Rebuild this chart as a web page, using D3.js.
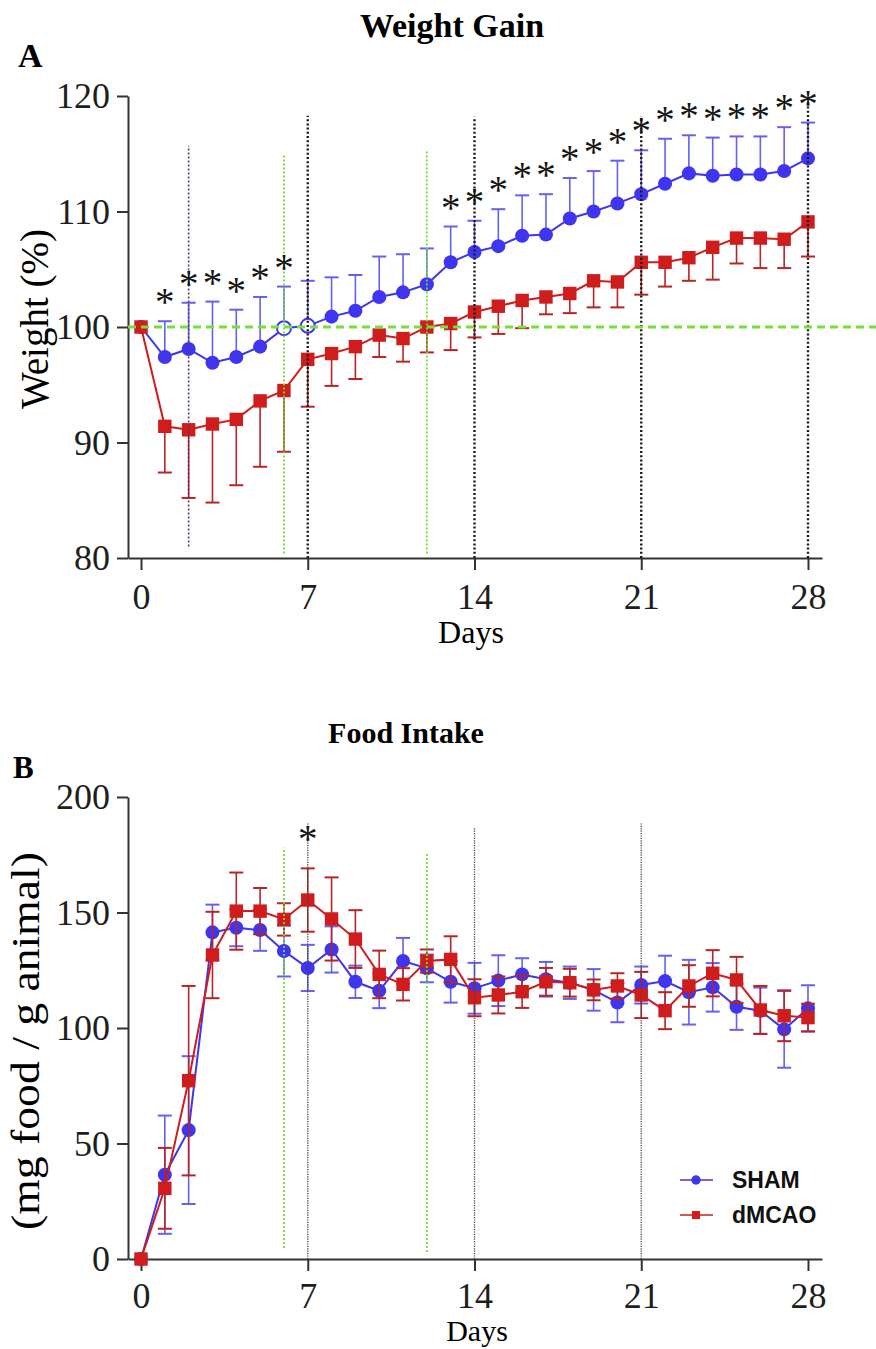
<!DOCTYPE html>
<html>
<head>
<meta charset="utf-8">
<script src="https://cdn.jsdelivr.net/npm/d3@7"></script>
<style>
  body { margin: 0; background: #fff; }
  text { font-family: "Liberation Serif", "Times New Roman", serif; }
</style>
</head>
<body>
<div id="chart"></div>
<script>
// days of the study
var days = [0, 1, 2, 3, 4, 5, 6, 7, 8, 9, 10, 11, 12, 13, 14, 15, 16, 17, 18, 19, 20, 21, 22, 23, 24, 25, 26, 27, 28];
var dayTicks = [0, 7, 14, 21, 28];

// A: weight (%) mean and SEM
var weightSham = [100, 97.4, 98.1, 96.9, 97.4, 98.3, 99.9, 100.1, 100.9, 101.4, 102.6, 103.0, 103.7, 105.6, 106.5, 107.0, 107.9, 108.0, 109.4, 110.0, 110.7, 111.5, 112.4, 113.3, 113.1, 113.2, 113.2, 113.5, 114.6];
var weightShamSem = [0, 3.1, 4.0, 5.3, 4.1, 4.3, 3.6, 3.9, 3.4, 3.1, 3.5, 3.3, 3.1, 3.1, 2.7, 3.2, 3.5, 3.5, 3.5, 3.5, 3.7, 3.8, 3.9, 3.3, 3.3, 3.3, 3.3, 3.8, 3.1];
var weightDmcao = [100, 91.4, 91.1, 91.6, 92.0, 93.6, 94.5, 97.2, 97.7, 98.3, 99.3, 99.0, 100.0, 100.3, 101.3, 101.8, 102.3, 102.6, 102.9, 104.0, 103.9, 105.6, 105.6, 106.0, 106.9, 107.7, 107.7, 107.6, 109.1];
var weightDmcaoSem = [0, 4.0, 5.9, 6.8, 5.7, 5.7, 5.3, 4.1, 2.8, 2.8, 1.9, 2.0, 2.2, 2.3, 2.2, 2.4, 2.4, 1.5, 1.7, 2.3, 2.2, 2.8, 2.1, 2.0, 2.8, 2.2, 2.6, 2.5, 3.0];
var weightSigDays = [1, 2, 3, 4, 5, 6, 13, 14, 15, 16, 17, 18, 19, 20, 21, 22, 23, 24, 25, 26, 27, 28];
var weightOpenDays = [6, 7];
var weightTicks = [80, 90, 100, 110, 120];
var weightBaseline = 100;
var weightRefLines = [
  { day: 2, from: 81, to: 115.7, kind: "purple" },
  { day: 6, from: 80.4, to: 115, kind: "green" },
  { day: 12, from: 80.4, to: 115.2, kind: "green" },
  { day: 7, from: 80, to: 118.3, kind: "black" },
  { day: 14, from: 80, to: 118.2, kind: "black" },
  { day: 21, from: 80, to: 118.2, kind: "black" },
  { day: 28, from: 80, to: 119.8, kind: "black" }
];

// B: food intake (mg food / g animal) mean and SEM
var foodSham = [0, 36.5, 55.8, 141.4, 143.4, 142.4, 133.3, 126, 134, 120, 116.1, 129, 125.8, 120.0, 117.2, 120.5, 123.2, 121.1, 119.6, 116.5, 111, 118.6, 120.3, 115.5, 117.6, 109.2, 107.5, 99.4, 108.5];
var foodShamSem = [0, 25.6, 32, 12, 8, 9, 11, 10, 10, 7, 7.5, 10, 6, 9, 11, 11, 7, 7.5, 7, 9, 8.5, 8, 11, 14, 10.5, 10, 10, 16.6, 10];
var foodDmcao = [0, 30.6, 77.2, 131.6, 150.6, 150.6, 147, 155.4, 147.2, 138.5, 123.2, 118.9, 129, 129.7, 113.1, 114.3, 115.7, 120.0, 119.6, 116.5, 118.2, 114.3, 107.5, 118.2, 123.7, 120.8, 107.8, 105.3, 104.5];
var foodDmcaoSem = [0, 17.5, 41, 18.7, 16.7, 10, 7, 13.7, 18, 12.5, 10.3, 7, 5, 10, 8, 8, 7, 6, 6, 4.5, 5.5, 10, 8, 9, 10, 10, 10.4, 11, 6];
var foodSigDays = [7];
var foodTicks = [0, 50, 100, 150, 200];
var foodRefLines = [
  { day: 6, from: 4.8, to: 178, kind: "green" },
  { day: 12, from: 3, to: 175.8, kind: "green" },
  { day: 7, from: 0, to: 189, kind: "thin" },
  { day: 14, from: 0, to: 187, kind: "thin" },
  { day: 21, from: 0, to: 189, kind: "thin" }
];

var groups = ["SHAM", "dMCAO"];

var BLUE = "#3f35ee", BLUE_ERR = "#6660ee";
var RED = "#cf1c1c", RED_ERR = "#b82424";

var refStyle = {
  purple: { color: "#5a3468", width: 1.6, dash: "2,2" },
  green: { color: "#6fdd2e", width: 1.8, dash: "2,2" },
  black: { color: "#1a1a1a", width: 2.4, dash: "2,2.2" },
  thin: { color: "#444", width: 1.3, dash: "1.2,1.2" }
};

var svg = d3.select("#chart").append("svg")
  .attr("width", 876)
  .attr("height", 1349);

var x = d3.scaleLinear().domain([-0.546, 28.588]).range([128, 822]);
var yA = d3.scaleLinear().domain([80, 120]).range([558, 96]);
var yB = d3.scaleLinear().domain([0, 200]).range([1259, 797]);

function drawAxes(y, ticks, baseY, pad) {
  var gx = svg.append("g")
    .attr("transform", "translate(0," + baseY + ")")
    .call(d3.axisBottom(x).tickValues(dayTicks).tickSize(12).tickSizeOuter(0).tickPadding(pad));
  var gy = svg.append("g")
    .attr("transform", "translate(128,0)")
    .call(d3.axisLeft(y).tickValues(ticks).tickSize(11).tickSizeOuter(0).tickPadding(7));
  [gx, gy].forEach(function(g) {
    g.selectAll("path, line").attr("stroke", "#333").attr("stroke-width", 2);
    g.selectAll("text").attr("fill", "#1e1e1e").style("font-size", "36px")
      .style("font-family", "'Liberation Serif', 'Times New Roman', serif");
  });
}

function drawSeries(y, means, sems, dir, color, errColor, shape, openDays) {
  var g = svg.append("g");
  var pts = days.map(function(d, i) { return { day: d, v: means[i], e: sems[i] }; });

  // error bars
  var bars = g.selectAll(".bar").data(pts.filter(function(p) { return p.e > 0; }))
    .enter().append("g");
  var ends = [];
  if (dir !== "down") ends.push(1);
  if (dir !== "up") ends.push(-1);
  ends.forEach(function(s) {
    bars.append("line")
      .attr("x1", function(p) { return x(p.day); })
      .attr("x2", function(p) { return x(p.day); })
      .attr("y1", function(p) { return y(p.v); })
      .attr("y2", function(p) { return y(p.v + s * p.e); })
      .attr("stroke", errColor).attr("stroke-width", 1.6);
    bars.append("line")
      .attr("x1", function(p) { return x(p.day) - 7; })
      .attr("x2", function(p) { return x(p.day) + 7; })
      .attr("y1", function(p) { return y(p.v + s * p.e); })
      .attr("y2", function(p) { return y(p.v + s * p.e); })
      .attr("stroke", errColor).attr("stroke-width", 2);
  });

  // connecting line
  g.append("path")
    .datum(pts)
    .attr("fill", "none")
    .attr("stroke", color)
    .attr("stroke-width", 2)
    .attr("d", d3.line().x(function(p) { return x(p.day); }).y(function(p) { return y(p.v); }));

  // markers
  var sym = shape === "circle" ? d3.symbol().type(d3.symbolCircle).size(155)
                               : d3.symbol().type(d3.symbolSquare).size(180);
  g.selectAll(".m").data(pts).enter().append("path")
    .attr("transform", function(p) { return "translate(" + x(p.day) + "," + y(p.v) + ")"; })
    .attr("d", sym)
    .attr("fill", function(p) { return (openDays || []).indexOf(p.day) >= 0 ? "#fff" : color; })
    .attr("stroke", function(p) { return (openDays || []).indexOf(p.day) >= 0 ? color : "none"; })
    .attr("stroke-width", 2);
}

function drawRefLines(y, lines) {
  svg.append("g").selectAll("line").data(lines).enter().append("line")
    .attr("x1", function(d) { return x(d.day); })
    .attr("x2", function(d) { return x(d.day); })
    .attr("y1", function(d) { return y(d.from); })
    .attr("y2", function(d) { return y(d.to); })
    .attr("stroke", function(d) { return refStyle[d.kind].color; })
    .attr("stroke-width", function(d) { return refStyle[d.kind].width; })
    .attr("stroke-dasharray", function(d) { return refStyle[d.kind].dash; });
}

function drawStars(y, sigDays, tops, gap) {
  svg.append("g").selectAll("text").data(sigDays).enter().append("text")
    .attr("x", function(d) { return x(d); })
    .attr("y", function(d) { return y(tops[d]) - gap + 18; })
    .attr("text-anchor", "middle")
    .style("font-size", "39px")
    .attr("fill", "#151515")
    .text("*");
}

// ---------- Panel A ----------
svg.append("text").attr("x", 452).attr("y", 37).attr("text-anchor", "middle")
  .style("font-size", "34px").style("font-weight", "bold").text("Weight Gain");
svg.append("text").attr("x", 18).attr("y", 67)
  .style("font-size", "34px").style("font-weight", "bold").text("A");

drawAxes(yA, weightTicks, 558, 13);
drawSeries(yA, weightSham, weightShamSem, "up", BLUE, BLUE_ERR, "circle", weightOpenDays);
drawSeries(yA, weightDmcao, weightDmcaoSem, "down", RED, RED_ERR, "square");
drawRefLines(yA, weightRefLines);

// 100 % baseline
svg.append("line")
  .attr("x1", 128).attr("x2", 876)
  .attr("y1", yA(weightBaseline)).attr("y2", yA(weightBaseline))
  .attr("stroke", "#76e03a").attr("stroke-width", 3).attr("stroke-dasharray", "8,5");

var weightTops = days.map(function(d, i) { return Math.max(weightSham[i] + weightShamSem[i], weightDmcao[i]); });
drawStars(yA, weightSigDays, weightTops, 24);

svg.append("text")
  .attr("transform", "translate(48,319) rotate(-90)")
  .attr("text-anchor", "middle")
  .style("font-size", "39px").text("Weight (%)");
svg.append("text").attr("x", 471).attr("y", 643).attr("text-anchor", "middle")
  .style("font-size", "32px").text("Days");

// ---------- Panel B ----------
svg.append("text").attr("x", 406).attr("y", 743).attr("text-anchor", "middle")
  .style("font-size", "30px").style("font-weight", "bold").text("Food Intake");
svg.append("text").attr("x", 13).attr("y", 778)
  .style("font-size", "31px").style("font-weight", "bold").text("B");

drawAxes(yB, foodTicks, 1259, 11);
drawSeries(yB, foodSham, foodShamSem, "both", BLUE, BLUE_ERR, "circle");
drawSeries(yB, foodDmcao, foodDmcaoSem, "both", RED, RED_ERR, "square");
drawRefLines(yB, foodRefLines);

var foodTops = days.map(function(d, i) { return Math.max(foodSham[i] + foodShamSem[i], foodDmcao[i] + foodDmcaoSem[i]); });
drawStars(yB, foodSigDays, foodTops, 34);

svg.append("text")
  .attr("transform", "translate(39,1041) rotate(-90)")
  .attr("text-anchor", "middle")
  .attr("textLength", 378).attr("lengthAdjust", "spacingAndGlyphs")
  .style("font-size", "41px").text("(mg food / g animal)");
svg.append("text").attr("x", 477).attr("y", 1341).attr("text-anchor", "middle")
  .style("font-size", "30px").text("Days");

// legend
var legend = svg.append("g").selectAll("g").data(groups).enter().append("g")
  .attr("transform", function(d, i) { return "translate(680," + (1180 + i * 35) + ")"; });
legend.append("line").attr("x1", 0).attr("x2", 33).attr("y1", 0).attr("y2", 0)
  .attr("stroke", function(d, i) { return i === 0 ? BLUE : RED; }).attr("stroke-width", 1.6);
legend.append("path")
  .attr("transform", "translate(16,0)")
  .attr("d", function(d, i) { return d3.symbol().type(i === 0 ? d3.symbolCircle : d3.symbolSquare).size(i === 0 ? 70 : 64)(); })
  .attr("fill", function(d, i) { return i === 0 ? BLUE : RED; });
legend.append("text")
  .attr("x", 52).attr("y", 8)
  .style("font-family", "'Liberation Sans', Arial, sans-serif")
  .style("font-size", "23px").style("font-weight", "bold")
  .attr("fill", "#111")
  .text(function(d) { return d; });
</script>
</body>
</html>
